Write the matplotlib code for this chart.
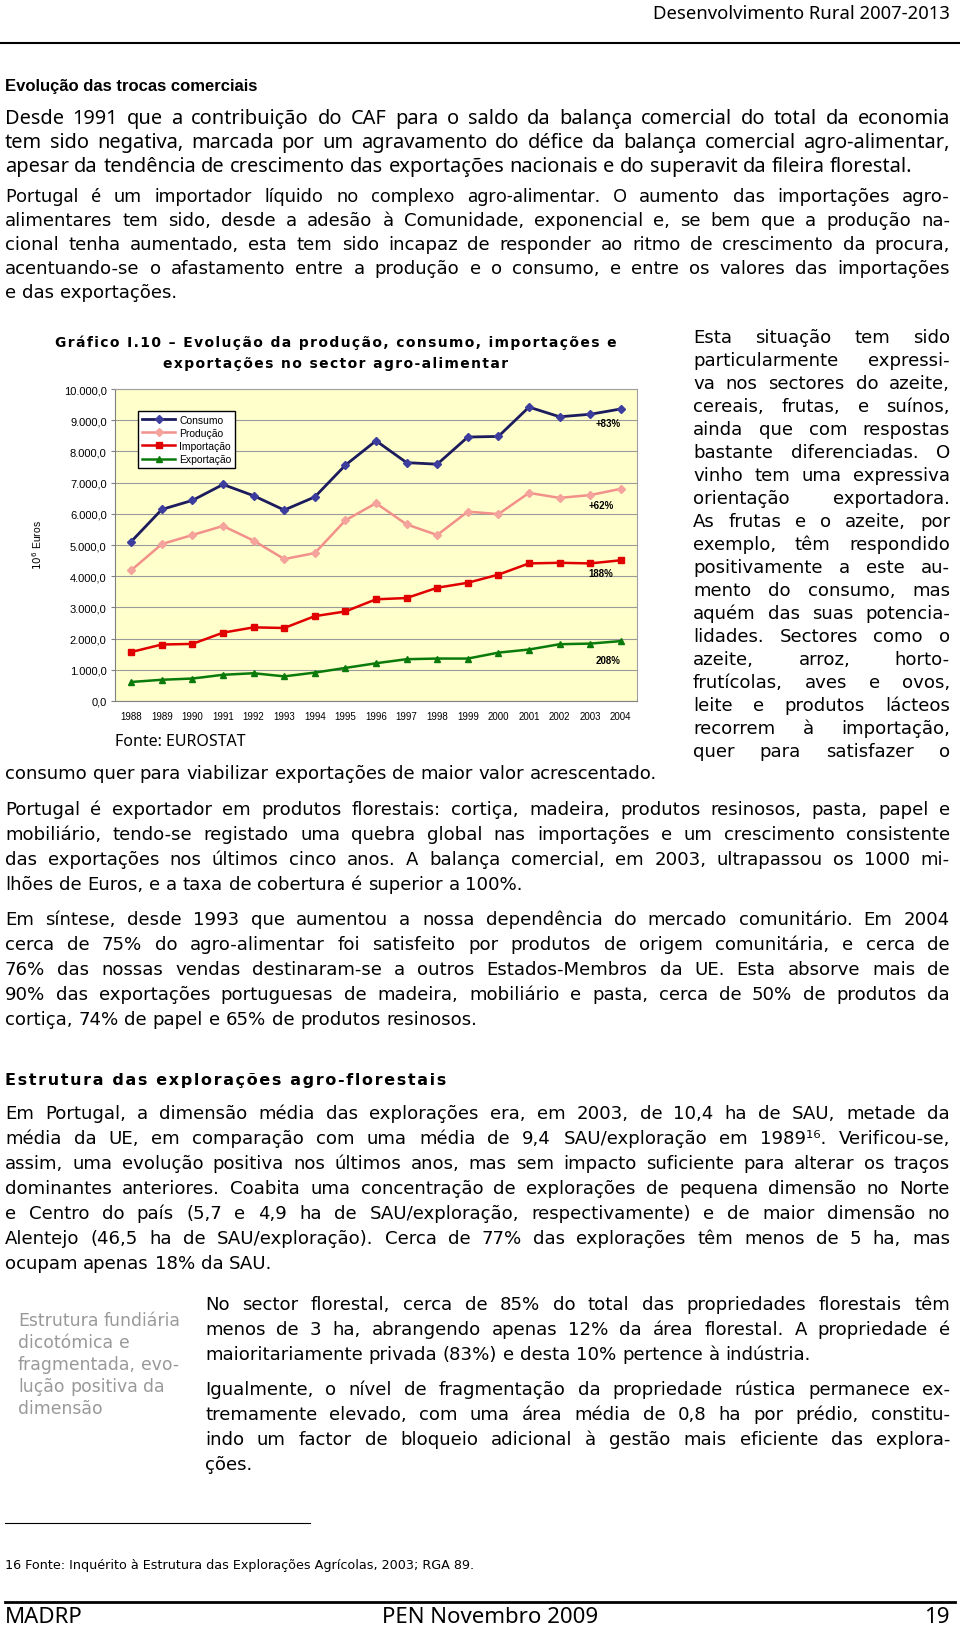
import matplotlib
matplotlib.use('Agg')
import matplotlib.pyplot as plt
from matplotlib.lines import Line2D
from matplotlib.ticker import FuncFormatter

W, H = 960, 1631

# --- chart data (10^6 Euros) ---
years = list(range(1988, 2005))
consumo = [5110, 6140, 6430, 6940, 6580, 6120, 6540, 7560, 8340, 7640, 7590, 8460, 8480, 9420, 9110, 9190, 9360]
producao = [4190, 5030, 5320, 5610, 5140, 4550, 4740, 5790, 6340, 5660, 5320, 6070, 5990, 6670, 6510, 6600, 6800]
importacao = [1570, 1810, 1830, 2190, 2360, 2340, 2720, 2870, 3260, 3300, 3630, 3790, 4050, 4410, 4430, 4410, 4510]
exportacao = [610, 680, 720, 840, 890, 790, 910, 1060, 1210, 1340, 1360, 1360, 1550, 1650, 1820, 1840, 1920]
series_names = ['Consumo', 'Produção', 'Importação', 'Exportação']
growth_labels = ['+83%', '+62%', '188%', '208%']

# --- page text ---
header = 'Desenvolvimento Rural 2007-2013'
heading1 = 'Evolução das trocas comerciais'
par1 = ['Desde 1991 que a contribuição do CAF para o saldo da balança comercial do total da economia',
        'tem sido negativa, marcada por um agravamento do défice da balança comercial agro-alimentar,',
        'apesar da tendência de crescimento das exportações nacionais e do superavit da fileira florestal.']
par2 = ['Portugal é um importador líquido no complexo agro-alimentar. O aumento das importações agro-',
        'alimentares tem sido, desde a adesão à Comunidade, exponencial e, se bem que a produção na-',
        'cional tenha aumentado, esta tem sido incapaz de responder ao ritmo de crescimento da procura,',
        'acentuando-se o afastamento entre a produção e o consumo, e entre os valores das importações',
        'e das exportações.']
chart_title = ['Gráfico I.10 – Evolução da produção, consumo, importações e',
               'exportações no sector agro-alimentar']
source = 'Fonte: EUROSTAT'
side_col = ['Esta situação tem sido', 'particularmente expressi-', 'va nos sectores do azeite,',
            'cereais, frutas, e suínos,', 'ainda que com respostas', 'bastante diferenciadas. O',
            'vinho tem uma expressiva', 'orientação exportadora.', 'As frutas e o azeite, por',
            'exemplo, têm respondido', 'positivamente a este au-', 'mento do consumo, mas',
            'aquém das suas potencia-', 'lidades. Sectores como o', 'azeite, arroz, horto-',
            'frutícolas, aves e ovos,', 'leite e produtos lácteos', 'recorrem à importação,',
            'quer para satisfazer o']
side_tail = 'consumo quer para viabilizar exportações de maior valor acrescentado.'
par3 = ['Portugal é exportador em produtos florestais: cortiça, madeira, produtos resinosos, pasta, papel e',
        'mobiliário, tendo-se registado uma quebra global nas importações e um crescimento consistente',
        'das exportações nos últimos cinco anos. A balança comercial, em 2003, ultrapassou os 1000 mi-',
        'lhões de Euros, e a taxa de cobertura é superior a 100%.']
par4 = ['Em síntese, desde 1993 que aumentou a nossa dependência do mercado comunitário. Em 2004',
        'cerca de 75% do agro-alimentar foi satisfeito por produtos de origem comunitária, e cerca de',
        '76% das nossas vendas destinaram-se a outros Estados-Membros da UE. Esta absorve mais de',
        '90% das exportações portuguesas de madeira, mobiliário e pasta, cerca de 50% de produtos da',
        'cortiça, 74% de papel e 65% de produtos resinosos.']
heading2 = 'Estrutura das explorações agro-florestais'
par5 = ['Em Portugal, a dimensão média das explorações era, em 2003, de 10,4 ha de SAU, metade da',
        'média da UE, em comparação com uma média de 9,4 SAU/exploração em 1989¹⁶. Verificou-se,',
        'assim, uma evolução positiva nos últimos anos, mas sem impacto suficiente para alterar os traços',
        'dominantes anteriores. Coabita uma concentração de explorações de pequena dimensão no Norte',
        'e Centro do país (5,7 e 4,9 ha de SAU/exploração, respectivamente) e de maior dimensão no',
        'Alentejo (46,5 ha de SAU/exploração). Cerca de 77% das explorações têm menos de 5 ha, mas',
        'ocupam apenas 18% da SAU.']
margin_note = ['Estrutura fundiária', 'dicotómica e', 'fragmentada, evo-', 'lução positiva da', 'dimensão']
par6 = ['No sector florestal, cerca de 85% do total das propriedades florestais têm',
        'menos de 3 ha, abrangendo apenas 12% da área florestal. A propriedade é',
        'maioritariamente privada (83%) e desta 10% pertence à indústria.']
par7 = ['Igualmente, o nível de fragmentação da propriedade rústica permanece ex-',
        'tremamente elevado, com uma área média de 0,8 ha por prédio, constitu-',
        'indo um factor de bloqueio adicional à gestão mais eficiente das explora-',
        'ções.']
footnote = '16 Fonte: Inquérito à Estrutura das Explorações Agrícolas, 2003; RGA 89.'
footer = ['MADRP', 'PEN Novembro 2009', '19']

BODY = 'DejaVu Sans'
TAHOMA = 'Noto Sans'
ARIAL = 'Liberation Sans'
BODY_SIZE = 13.1

fig = plt.figure(figsize=(W / 100, H / 100), dpi=100)
renderer = fig.canvas.get_renderer()


def width_of(s, size, family, weight='normal'):
    t = fig.text(0, 0, s, fontsize=size, family=family, weight=weight)
    w = t.get_window_extent(renderer).width
    t.remove()
    return w


def tracked(s, sp='\u200a'):
    # fake letter spacing with hair spaces
    return sp.join(s)


def put_line(y, s, x0=5, x1=950, size=BODY_SIZE, family=BODY, justify=True,
             color='black', weight='normal', first_family=None, n_first=0):
    # y is the visual middle of the line in page pixels
    words = s.split(' ')
    base = y + 0.36 * size / 0.72
    ts = []
    for i, w in enumerate(words):
        fam = first_family if i < n_first else family
        ts.append(fig.text(0, 1 - base / H, w, fontsize=size, family=fam, color=color,
                           weight=weight, va='baseline', ha='left'))
    ws = [t.get_window_extent(renderer).width for t in ts]
    if justify and len(words) > 1:
        gap = (x1 - x0 - sum(ws)) / (len(words) - 1)
    else:
        gap = width_of('n n', size, family, weight) - width_of('nn', size, family, weight)
    x = x0
    for t, w in zip(ts, ws):
        t.set_x(x / W)
        x += w + gap


def put_par(y0, lines, step, **kw):
    for i, s in enumerate(lines):
        put_line(y0 + i * step, s, justify=(i < len(lines) - 1), **kw)


def hline(y, x0, x1, lw=1.0, color='black'):
    fig.add_artist(Line2D([x0 / W, x1 / W], [1 - y / H, 1 - y / H], lw=lw, color=color))


# header
fig.text(950 / W, 1 - 14 / H, header, fontsize=13.3, family=TAHOMA, ha='right', va='center')
hline(44, 0, 960, lw=1.5)

fig.text(5 / W, 1 - 87 / H, heading1, fontsize=12, family=ARIAL, weight='bold', va='center')
put_par(117, par1, 24, size=14.4, family=TAHOMA)
put_line(195, par2[0], first_family=TAHOMA, n_first=9)
put_par(219, par2[1:], 24)

# chart title
for i, s in enumerate(chart_title):
    fig.text(336 / W, 1 - (343 + i * 21) / H, tracked(s), fontsize=10, family=BODY,
             weight='bold', ha='center', va='center')

# right column next to the chart
for i, s in enumerate(side_col):
    put_line(336 + i * 23, s, x0=693, x1=950)
put_line(772, side_tail, justify=False)

# chart
ax = fig.add_axes([115 / W, 1 - 702 / H, 522 / W, 312 / H])
ax.set_facecolor('#FFFFCC')
styles = [
    dict(color='#1B1B5E', marker='D', mfc='#3D3D9E', mec='#3D3D9E', ms=4, lw=2.0),
    dict(color='#F2908A', marker='D', mfc='#F4A39D', mec='#F4A39D', ms=4, lw=1.8),
    dict(color='#E00000', marker='s', mfc='#E00000', mec='#E00000', ms=4.5, lw=1.8),
    dict(color='#0A7A0A', marker='^', mfc='#0A7A0A', mec='#0A7A0A', ms=5, lw=1.8),
]
for vals, name, st in zip([consumo, producao, importacao, exportacao], series_names, styles):
    ax.plot(years, vals, label=name, **st)

label_pos = [(2003.6, 8910), (2003.35, 6280), (2003.35, 4100), (2003.6, 1310)]
for (lx, ly), lab in zip(label_pos, growth_labels):
    ax.text(lx, ly, lab, ha='center', va='center', fontsize=7, weight='bold', family=ARIAL)

ax.set_xlim(1987.47, 2004.53)
ax.set_ylim(0, 10000)
ax.set_xticks(years)
ax.set_xticklabels([str(y) for y in years], fontsize=7, family=ARIAL)
ax.set_yticks(range(0, 10001, 1000))
ax.yaxis.set_major_formatter(FuncFormatter(
    lambda v, p: f'{v:,.1f}'.replace(',', 'X').replace('.', ',').replace('X', '.')))
for lab in ax.get_yticklabels():
    lab.set_family(ARIAL)
ax.tick_params(axis='y', labelsize=8, length=3, pad=3, color='#808080')
ax.tick_params(axis='x', length=0, pad=7)
ax.yaxis.grid(True, color='#9A9A9A', lw=0.8)
ax.set_axisbelow(True)
for side in ['top', 'right']:
    ax.spines[side].set_color('#A0A0A0')
for side in ['left', 'bottom']:
    ax.spines[side].set_color('#808080')

ax.legend(loc='upper left', bbox_to_anchor=(133 / W, 1 - 407 / H), bbox_transform=fig.transFigure,
          prop={'family': ARIAL, 'size': 7.5}, frameon=True, fancybox=False, edgecolor='black',
          framealpha=1, borderpad=0.35, labelspacing=0.3, handlelength=3.2, handletextpad=0.4)

fig.text(37 / W, 1 - 545 / H, r'$10^6$ Euros', rotation=90, fontsize=7.5, family=ARIAL,
         ha='center', va='center')
fig.text(115 / W, 1 - 742 / H, source, fontsize=11.5, family=TAHOMA, va='center')

# lower text
put_par(808, par3, 25)
put_par(918, par4, 25)
fig.text(5 / W, 1 - 1080 / H, tracked(heading2), fontsize=11.5, family=BODY,
         weight='bold', va='center')
put_par(1112, par5, 25)
for i, s in enumerate(margin_note):
    put_line(1320 + i * 22, s, x0=18, size=12.4, color='#999999', justify=False)
put_par(1303, par6, 25, x0=205)
put_par(1388, par7, 25, x0=205)

hline(1524, 5, 310, lw=0.8)
fig.text(5 / W, 1 - 1566 / H, footnote, fontsize=9.2, family=BODY, va='center')
hline(1603, 5, 955, lw=2.0)
fig.text(5 / W, 1 - 1618 / H, footer[0], fontsize=16, family=TAHOMA, va='center')
fig.text(490 / W, 1 - 1618 / H, footer[1], fontsize=16, family=TAHOMA, va='center', ha='center')
fig.text(950 / W, 1 - 1618 / H, footer[2], fontsize=16, family=TAHOMA, va='center', ha='right')

fig.savefig('out.png', dpi=100, facecolor='white')
